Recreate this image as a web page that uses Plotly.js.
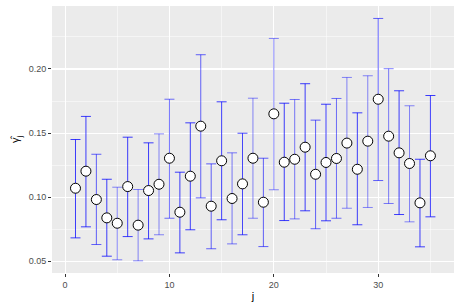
<!DOCTYPE html>
<html>
<head>
<meta charset="utf-8">
<script src="https://cdn.plot.ly/plotly-3.0.1.min.js"></script>
<style>html,body{margin:0;padding:0;background:#fff;}#chart{width:460px;height:307px;}</style>
</head>
<body>
<div id="chart"></div>
<script>
const j = [1,2,3,4,5,6,7,8,9,10,11,12,13,14,15,16,17,18,19,20,21,22,23,24,25,26,27,28,29,30,31,32,33,34,35];
const gammaHat = [0.1070,0.1203,0.0982,0.0839,0.0797,0.1083,0.0782,0.1052,0.1101,0.1304,0.0883,0.1164,0.1554,0.0930,0.1284,0.0990,0.1104,0.1304,0.0961,0.1650,0.1273,0.1296,0.1390,0.1179,0.1271,0.1302,0.1422,0.1218,0.1437,0.1764,0.1476,0.1346,0.1263,0.0956,0.1323];
const upper = [0.1450,0.1630,0.1335,0.1140,0.1078,0.1468,0.1060,0.1424,0.1494,0.1764,0.1195,0.1580,0.2111,0.1260,0.1744,0.1346,0.1499,0.1772,0.1304,0.2238,0.1733,0.1762,0.1885,0.1601,0.1725,0.1770,0.1934,0.1658,0.1947,0.2394,0.2002,0.1830,0.1713,0.1296,0.1793];
const lower = [0.0683,0.0769,0.0631,0.0540,0.0512,0.0693,0.0504,0.0675,0.0707,0.0836,0.0566,0.0746,0.0995,0.0598,0.0824,0.0636,0.0707,0.0836,0.0615,0.1058,0.0818,0.0831,0.0894,0.0754,0.0816,0.0836,0.0914,0.0785,0.0920,0.1130,0.0951,0.0865,0.0808,0.0613,0.0847];
const barAlpha = [0.75,0.75,0.6,0.75,0.45,0.75,0.45,0.75,0.45,0.55,0.75,0.75,0.6,0.6,0.75,0.5,0.7,0.45,0.6,0.45,0.75,0.5,0.75,0.6,0.75,0.55,0.45,0.75,0.45,0.6,0.5,0.75,0.45,0.75,0.75];

const traces = [];
for (let i = 0; i < j.length; i++) {
  traces.push({
    type: 'scatter', mode: 'markers',
    x: [j[i]], y: [gammaHat[i]],
    marker: {size: 1, opacity: 0},
    error_y: {
      type: 'data', symmetric: false,
      array: [upper[i] - gammaHat[i]],
      arrayminus: [gammaHat[i] - lower[i]],
      color: 'rgba(0,0,255,' + barAlpha[i] + ')',
      thickness: 1, width: 5
    },
    hoverinfo: 'skip', showlegend: false
  });
}
traces.push({
  type: 'scatter', mode: 'markers',
  x: j, y: gammaHat,
  marker: {size: 10, color: '#FFFFFF', line: {color: '#000000', width: 1}},
  showlegend: false
});

const font = 'Liberation Sans, Arial, Helvetica, sans-serif';
const layout = {
  width: 460, height: 307,
  margin: {l: 52, r: 6, t: 6, b: 34, pad: 0},
  paper_bgcolor: '#FFFFFF',
  plot_bgcolor: '#EBEBEB',
  font: {family: font, color: '#4D4D4D', size: 9},
  showlegend: false,
  xaxis: {
    range: [-1.25, 37.26],
    tickvals: [0, 10, 20, 30],
    ticktext: ['0', '10', '20', '30'],
    ticks: 'outside', ticklen: 3, tickwidth: 1, tickcolor: '#333333',
    tickfont: {family: font, size: 9, color: '#4D4D4D'},
    showgrid: true, gridcolor: '#FFFFFF', gridwidth: 1.1,
    minor: {tickvals: [5, 15, 25, 35], showgrid: true, gridcolor: '#FFFFFF', gridwidth: 0.5, ticks: ''},
    zeroline: false, showline: false,
    title: {text: 'j', font: {family: font, size: 11, color: '#000000'}, standoff: 3}
  },
  yaxis: {
    range: [0.0409, 0.2491],
    tickvals: [0.05, 0.10, 0.15, 0.20],
    ticktext: ['0.05', '0.10', '0.15', '0.20'],
    ticks: 'outside', ticklen: 3, tickwidth: 1, tickcolor: '#333333',
    tickfont: {family: font, size: 9, color: '#4D4D4D'},
    showgrid: true, gridcolor: '#FFFFFF', gridwidth: 1.1,
    minor: {tickvals: [0.075, 0.125, 0.175, 0.225], showgrid: true, gridcolor: '#FFFFFF', gridwidth: 0.5, ticks: ''},
    zeroline: false, showline: false,
    title: {text: 'γ̂<sub>j</sub>', font: {family: font, size: 11, color: '#000000'}, standoff: 6}
  }
};

Plotly.newPlot('chart', traces, layout, {displayModeBar: false, staticPlot: true});
</script>
</body>
</html>
